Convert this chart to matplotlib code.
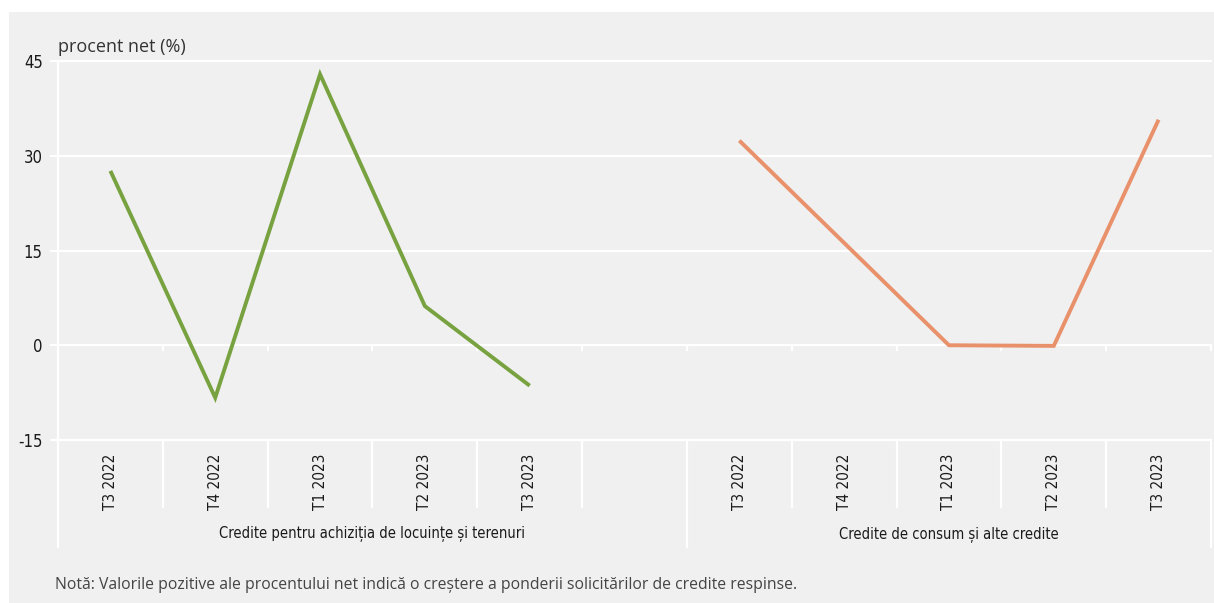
import matplotlib.pyplot as plt
from matplotlib.patches import Rectangle

# procent net, pe trimestre
trimestre = ["T3 2022", "T4 2022", "T1 2023", "T2 2023", "T3 2023"]
locuinte = [27.6, -8.3, 42.9, 6.2, -6.4]
consum = [32.4, 16.2, 0.0, -0.1, 35.7]
grupuri = ["Credite pentru achiziția de locuințe și terenuri",
           "Credite de consum și alte credite"]
yticks = [-15, 0, 15, 30, 45]

fundal = "#f0f0f0"
verde = "#77a23f"
portocaliu = "#e8916b"
ingust = dict(family="DejaVu Sans", stretch="condensed", color="#1a1a1a")
normal = ["Open Sans", "DejaVu Sans"]

W, H = 1214, 603
fig = plt.figure(figsize=(W / 100, H / 100), dpi=100)
fig.patch.set_facecolor("white")
fig.patches.append(Rectangle((9 / W, 0), 1 - 9 / W, 1 - 12 / H,
                             transform=fig.transFigure, facecolor=fundal,
                             edgecolor="none", zorder=-10))

x0, x1, ytop, ybot = 58, 1211, 61, 440
ax = fig.add_axes([x0 / W, 1 - ybot / H, (x1 - x0) / W, (ybot - ytop) / H])
ax.set_facecolor(fundal)
for s in ax.spines.values():
    s.set_visible(False)

n = len(trimestre)
pos1 = [i + 0.5 for i in range(n)]
pos2 = [n + 1 + i + 0.5 for i in range(n)]
nslot = 2 * n + 1

ax.set_xlim(0, nslot)
ax.set_ylim(yticks[0], yticks[-1])
ax.set_yticks(yticks)
ax.set_yticklabels([str(v) for v in yticks], fontsize=12, **ingust)
ax.tick_params(axis="y", length=6, width=1.5, color="white", pad=5)
ax.set_xticks([])
for v in yticks:
    ax.axhline(v, color="white", lw=1.6, zorder=1, clip_on=False)

xt = ax.get_xaxis_transform()
hpx = ybot - ytop
# axa verticala din stanga, coborata pana sub etichetele de grup
ax.plot([0, 0], [1, -107 / hpx], transform=xt, color="white", lw=1.6,
        clip_on=False, zorder=1)
for b in range(1, nslot + 1):
    jos = -107 / hpx if b in (n + 1, nslot) else -67 / hpx
    ax.plot([b, b], [0, jos], transform=xt, color="white", lw=1.6,
            clip_on=False, zorder=1)
    ax.plot([b, b], [0, -0.8], color="white", lw=1.6, clip_on=False, zorder=1)

ax.plot(pos1, locuinte, color=verde, lw=2.8, zorder=3,
        solid_joinstyle="miter", solid_capstyle="butt")
ax.plot(pos2, consum, color=portocaliu, lw=2.8, zorder=3,
        solid_joinstyle="miter", solid_capstyle="butt")

for p, t in zip(pos1 + pos2, trimestre + trimestre):
    ax.text(p, -14 / hpx, t, transform=xt, rotation=90, ha="center",
            va="top", fontsize=11, **ingust)

ax.text((n + 1) / 2, -94 / hpx, grupuri[0], transform=xt,
        ha="center", va="center", fontsize=10.5, **ingust)
ax.text((n + 1 + nslot) / 2, -94 / hpx, grupuri[1], transform=xt,
        ha="center", va="center", fontsize=10.5, **ingust)

fig.text(58 / W, 1 - 47 / H, "procent net (%)", family=normal, fontsize=13,
         color="#333333", va="center", ha="left")
fig.text(55 / W, 1 - 585 / H,
         "Notă: Valorile pozitive ale procentului net indică o creștere a "
         "ponderii solicitărilor de credite respinse.",
         family=normal, fontsize=11.3, color="#444444", va="center", ha="left")

fig.savefig("out.png", dpi=100, facecolor=fig.get_facecolor())
